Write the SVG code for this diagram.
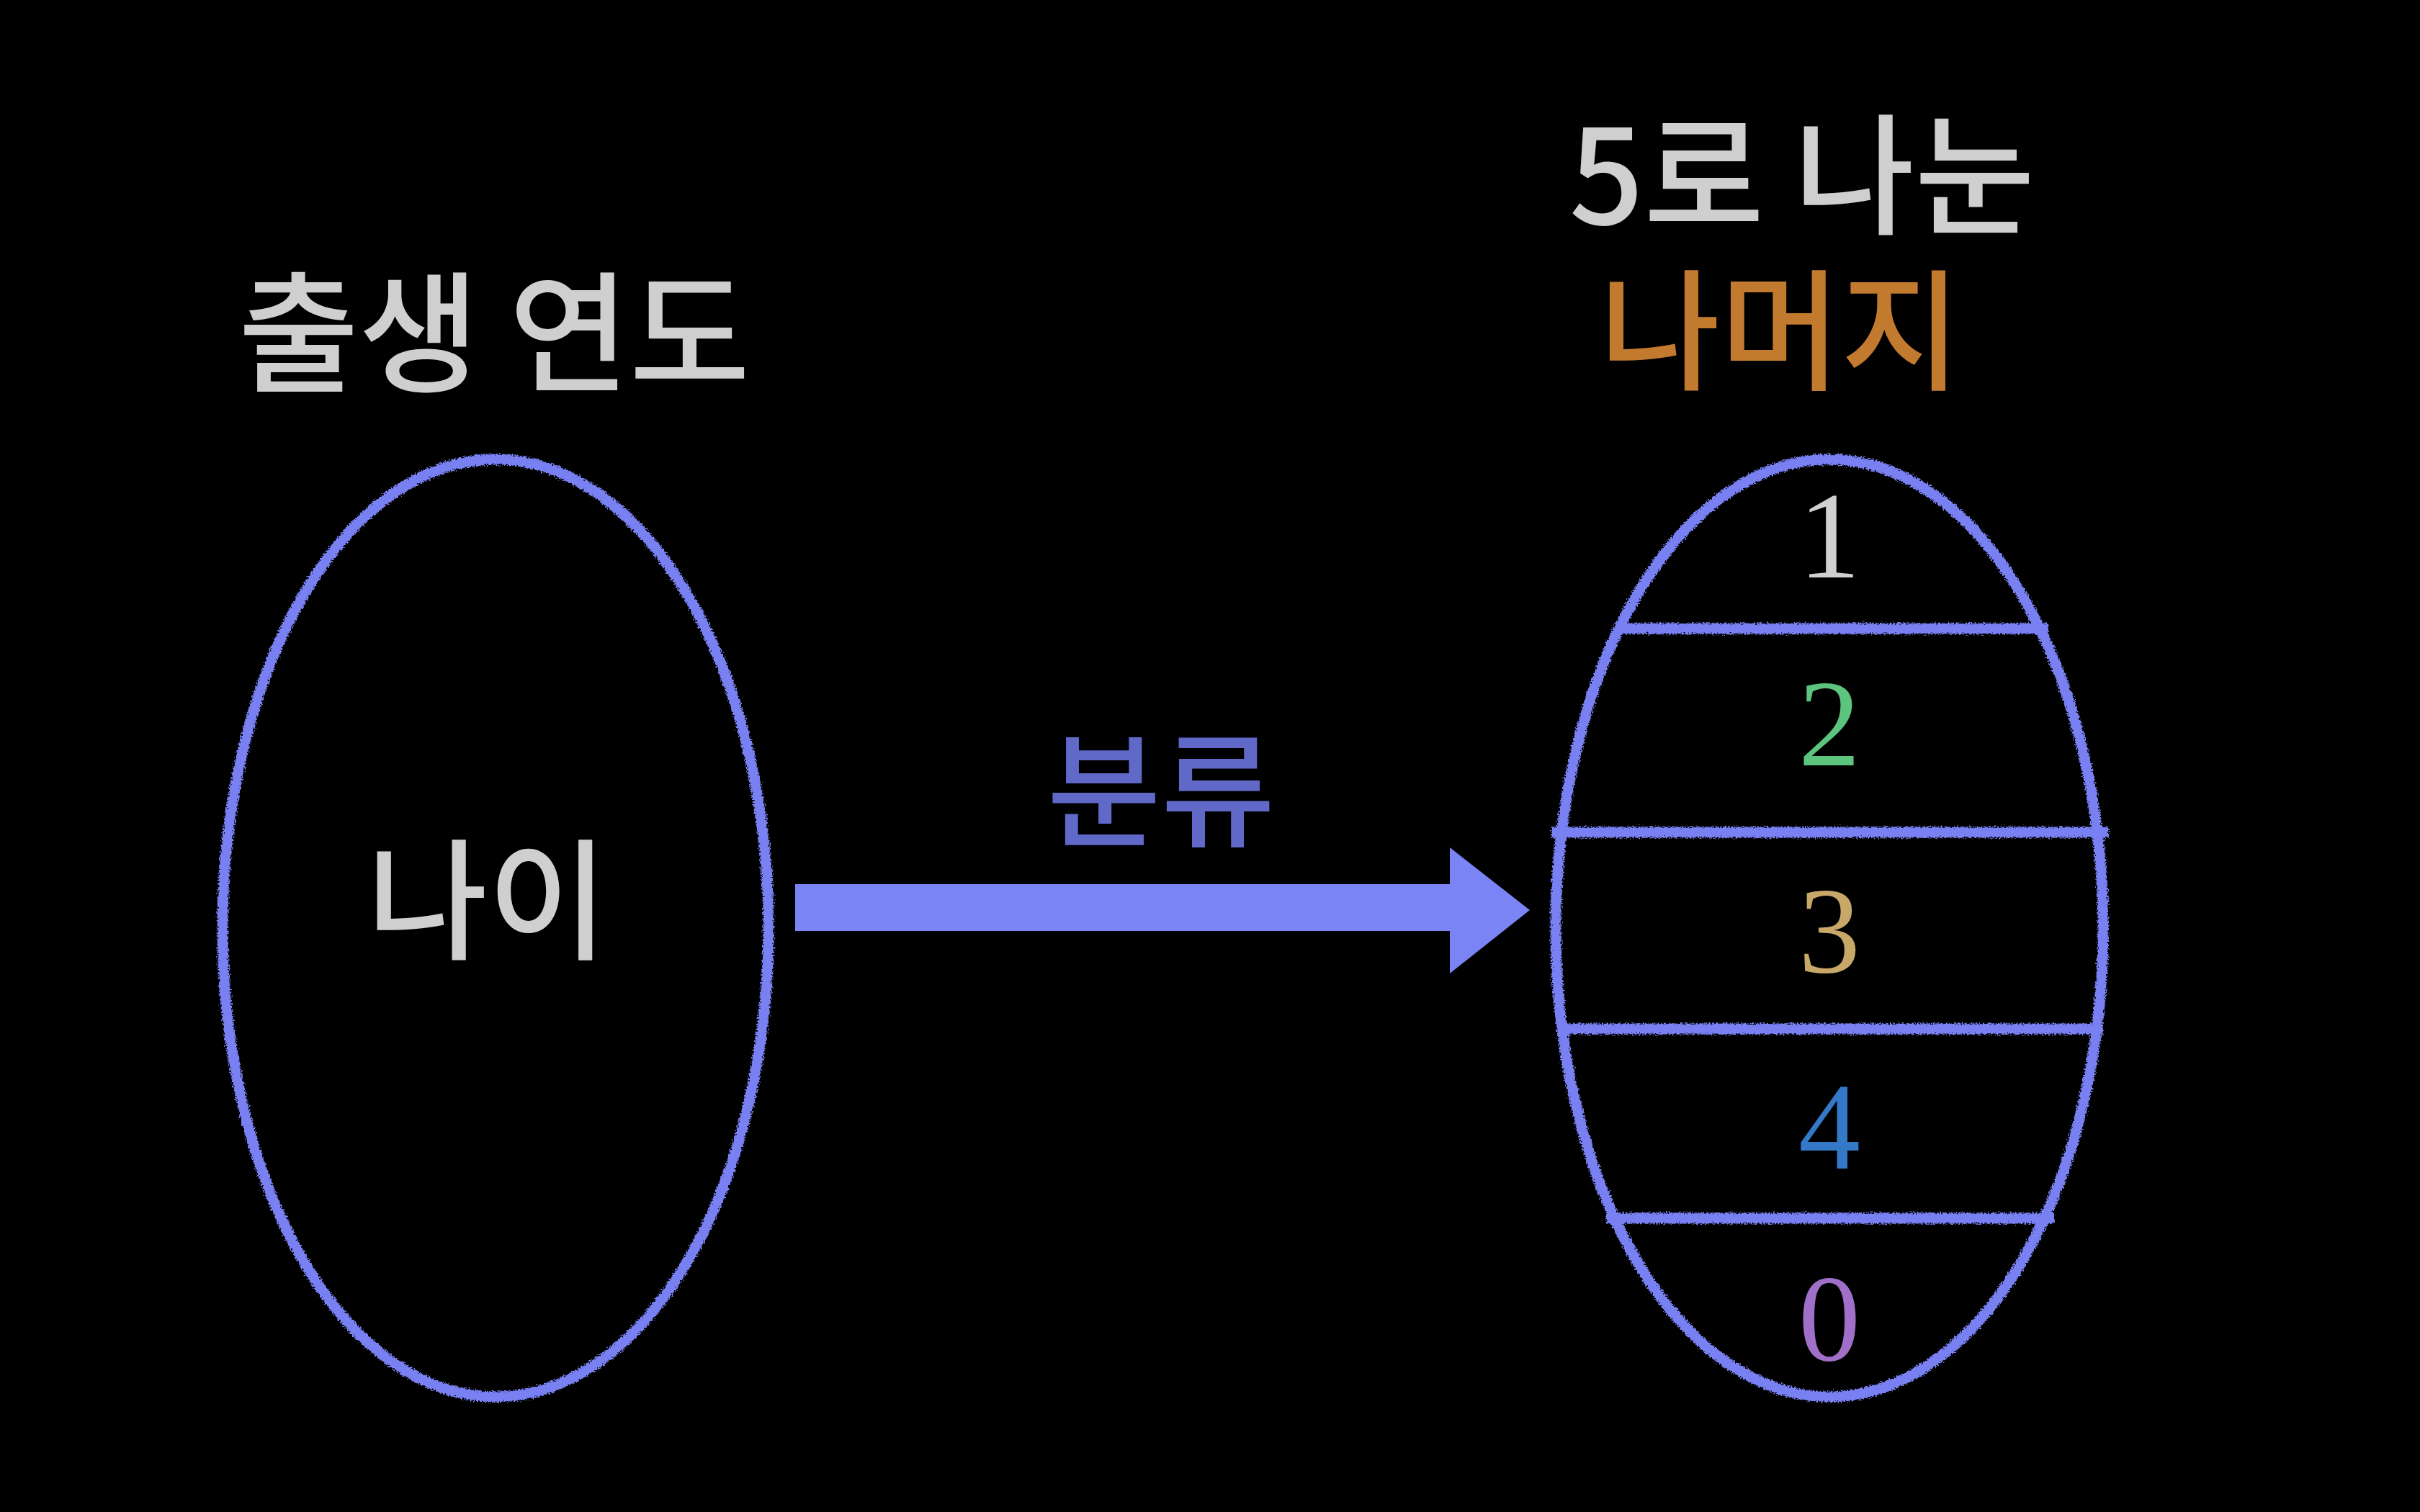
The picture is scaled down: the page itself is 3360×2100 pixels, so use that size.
<svg xmlns="http://www.w3.org/2000/svg" width="3360" height="2100" viewBox="0 0 3360 2100">
<defs>
<filter id="chalk" filterUnits="userSpaceOnUse" x="0" y="0" width="3360" height="2100">
<feTurbulence type="fractalNoise" baseFrequency="0.45" numOctaves="2" seed="3" result="n"/>
<feDisplacementMap in="SourceGraphic" in2="n" scale="9" xChannelSelector="R" yChannelSelector="G"/>
</filter>
<style>
.ch{fill:none;stroke:#7880F2;stroke-width:15;filter:url(#chalk)}
.kr{font-family:"Noto Sans CJK KR","Noto Sans",sans-serif;text-anchor:middle;font-weight:500}
.num{font-family:"Liberation Serif","DejaVu Serif",serif;text-anchor:middle;font-size:172px}
</style>
</defs>
<rect width="3360" height="2100" fill="#000"/>
<g id="title-left"><text class="kr" x="686" y="530" font-size="182" fill="#CFCFCF">출생 연도</text></g>
<g id="title-right">
<text class="kr" x="2502" y="311" font-size="182" fill="#CFCFCF">5로 나눈</text>
<text class="kr" x="2472" y="527" font-size="182" fill="#C27A2E">나머지</text>
</g>
<g id="node-age">
<ellipse class="ch" cx="688" cy="1289" rx="379" ry="651"/>
<text class="kr" x="677" y="1318" font-size="182" fill="#CFCFCF">나이</text>
</g>
<g id="node-remainder">
<ellipse class="ch" cx="2540" cy="1289" rx="380" ry="651"/>
<line class="ch" x1="2243" y1="873" x2="2844" y2="873"/>
<line class="ch" x1="2154" y1="1156" x2="2928" y2="1156"/>
<line class="ch" x1="2164" y1="1429" x2="2920" y2="1429"/>
<line class="ch" x1="2230" y1="1692" x2="2852" y2="1692"/>
<text class="num" x="2540" y="802" fill="#D0D0D0">1</text>
<text class="num" x="2540" y="1063" fill="#5DC47E">2</text>
<text class="num" x="2540" y="1350" fill="#C8A868">3</text>
<text class="num" x="2540" y="1623" fill="#3478C8">4</text>
<text class="num" x="2540" y="1889" fill="#A070C8">0</text>
</g>
<g id="connectors">
<polygon points="1104,1228 2013,1228 2013,1177 2124,1264 2013,1352 2013,1293 1104,1293" fill="#7B84F5"/>
<text class="kr" x="1612" y="1162" font-size="172" fill="#6068C8">분류</text>
</g>
</svg>
